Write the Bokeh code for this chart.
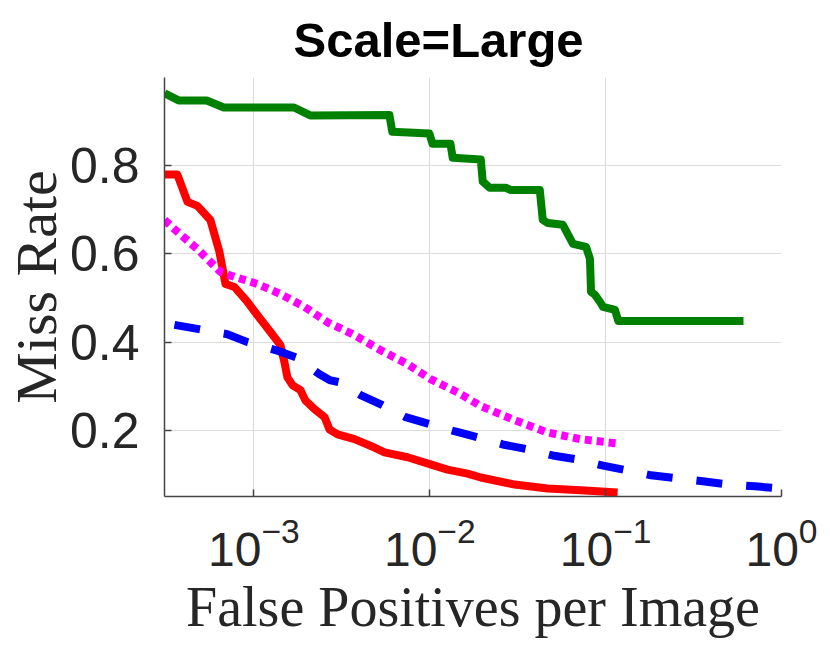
from bokeh.plotting import figure
from bokeh.models import Range1d, FixedTicker, LogTicker
from bokeh.embed import file_html
from bokeh.resources import INLINE

# ---- data ----
green_x = [3.1e-4, 3.73e-4, 5.39e-4, 6.74e-4, 1.69e-3, 2.09e-3, 5.89e-3, 6.12e-3,
           9.95e-3, 1.035e-2, 1.31e-2, 1.35e-2, 1.95e-2, 2.0e-2, 2.19e-2, 2.70e-2,
           2.89e-2, 4.22e-2, 4.39e-2, 4.69e-2, 5.71e-2, 6.52e-2, 7.73e-2, 8.14e-2,
           8.26e-2, 8.71e-2, 9.29e-2, 9.66e-2, 0.113, 0.118, 0.608]
green_y = [0.964, 0.948, 0.948, 0.932, 0.932, 0.914, 0.915, 0.877,
           0.873, 0.850, 0.850, 0.818, 0.814, 0.764, 0.750, 0.750,
           0.745, 0.745, 0.677, 0.670, 0.666, 0.623, 0.616, 0.589,
           0.514, 0.507, 0.491, 0.480, 0.473, 0.448, 0.448]

red_x = [3.1e-4, 3.67e-4, 4.19e-4, 4.77e-4, 5.65e-4, 6.36e-4, 6.89e-4, 7.75e-4,
         9.19e-4, 1.047e-3, 1.242e-3, 1.415e-3, 1.49e-3, 1.55e-3, 1.66e-3, 1.84e-3,
         1.96e-3, 2.21e-3, 2.52e-3, 2.69e-3, 2.99e-3, 3.73e-3, 4.85e-3, 5.53e-3,
         7.48e-3, 1.01e-2, 1.26e-2, 1.64e-2, 1.95e-2, 3.04e-2, 4.68e-2, 7.21e-2, 0.117]
red_y = [0.780, 0.780, 0.718, 0.709, 0.677, 0.605, 0.532, 0.525,
         0.491, 0.461, 0.423, 0.393, 0.355, 0.320, 0.302, 0.291,
         0.268, 0.248, 0.230, 0.202, 0.191, 0.180, 0.161, 0.150,
         0.139, 0.123, 0.111, 0.102, 0.093, 0.077, 0.068, 0.064, 0.059]

blue_x = [3.53e-4, 4.77e-4, 7.06e-4, 9.19e-4, 1.324e-3, 1.77e-3, 2.36e-3, 2.69e-3,
          3.07e-3, 4.04e-3, 5.38e-3, 7.28e-3, 9.97e-3, 1.38e-2, 1.87e-2, 2.60e-2,
          3.60e-2, 5.00e-2, 6.94e-2, 9.67e-2, 0.134, 0.181, 0.257, 0.366,
          0.508, 0.706, 1.0]
blue_y = [0.439, 0.430, 0.418, 0.400, 0.382, 0.364, 0.327, 0.314,
          0.309, 0.280, 0.257, 0.230, 0.214, 0.198, 0.184, 0.168,
          0.157, 0.143, 0.134, 0.120, 0.109, 0.098, 0.091, 0.084,
          0.077, 0.073, 0.068]

magenta_x = [3.1e-4, 3.67e-4, 4.77e-4, 5.65e-4, 6.46e-4, 7.75e-4, 1.047e-3, 1.415e-3,
             1.94e-3, 2.62e-3, 3.73e-3, 5.23e-3, 7.48e-3, 1.01e-2, 1.44e-2, 1.95e-2,
             3.04e-2, 4.68e-2, 7.21e-2, 0.117]
magenta_y = [0.677, 0.650, 0.611, 0.582, 0.559, 0.548, 0.532, 0.509,
             0.480, 0.445, 0.416, 0.382, 0.350, 0.316, 0.286, 0.255,
             0.223, 0.195, 0.180, 0.170]

y_ticks = [0.2, 0.4, 0.6, 0.8]
title_text = "Scale=Large"
x_label = "False Positives per Image"
y_label = "Miss Rate"

# ---- figure ----
p = figure(frame_width=617, frame_height=419, x_axis_type="log",
           x_range=Range1d(3.1e-4, 1.0), y_range=Range1d(0.05, 1.0),
           output_backend="svg", toolbar_location=None,
           min_border_left=158, min_border_right=39,
           min_border_top=76, min_border_bottom=140)
p.outline_line_color = None
p.background_fill_color = "white"
p.border_fill_color = "white"

p.title.text = title_text
p.title.text_font = "Liberation Sans"
p.title.text_font_style = "bold"
p.title.text_font_size = "49px"
p.title.text_color = "black"
p.title.align = "left"
p.title.offset = 129
p.title.standoff = 21

p.xaxis.ticker = LogTicker(num_minor_ticks=0)
p.yaxis.ticker = FixedTicker(ticks=y_ticks)

for ax in (p.xaxis[0], p.yaxis[0]):
    ax.axis_line_color = "#444444"
    ax.axis_line_width = 1.5
    ax.major_tick_line_color = "#444444"
    ax.major_tick_line_width = 1.5
    ax.major_tick_in = 7
    ax.major_tick_out = 0
    ax.minor_tick_line_color = None
    ax.major_label_text_font = "Liberation Sans"
    ax.major_label_text_color = "#262626"
    ax.axis_label_text_font = "Liberation Serif"
    ax.axis_label_text_font_style = "normal"
    ax.axis_label_text_color = "#262626"

p.xaxis.major_label_text_font_size = "48px"
p.yaxis.major_label_text_font_size = "50px"
p.xaxis.axis_label_text_font_size = "56px"
p.yaxis.axis_label_text_font_size = "58px"
p.xaxis.axis_label = x_label
p.yaxis.axis_label = y_label
p.yaxis.major_label_standoff = 25
p.xaxis.major_label_standoff = 20
p.xaxis.axis_label_standoff = 7
p.yaxis.axis_label_standoff = -2

p.xgrid.ticker = LogTicker(num_minor_ticks=0)
p.ygrid.ticker = FixedTicker(ticks=y_ticks)
for g in (p.xgrid[0], p.ygrid[0]):
    g.grid_line_color = "#dcdcdc"
    g.grid_line_width = 1.2

p.line(green_x, green_y, line_color="#008000", line_width=8, line_join="round")
p.line(red_x, red_y, line_color="#ff0000", line_width=8, line_join="round")
p.line(blue_x, blue_y, line_color="#0000ff", line_width=8, line_dash="26 24")
p.line(magenta_x, magenta_y, line_color="#ff00ff", line_width=8, line_dash="7 5")

open("out.html", "w").write(file_html(p, INLINE))
